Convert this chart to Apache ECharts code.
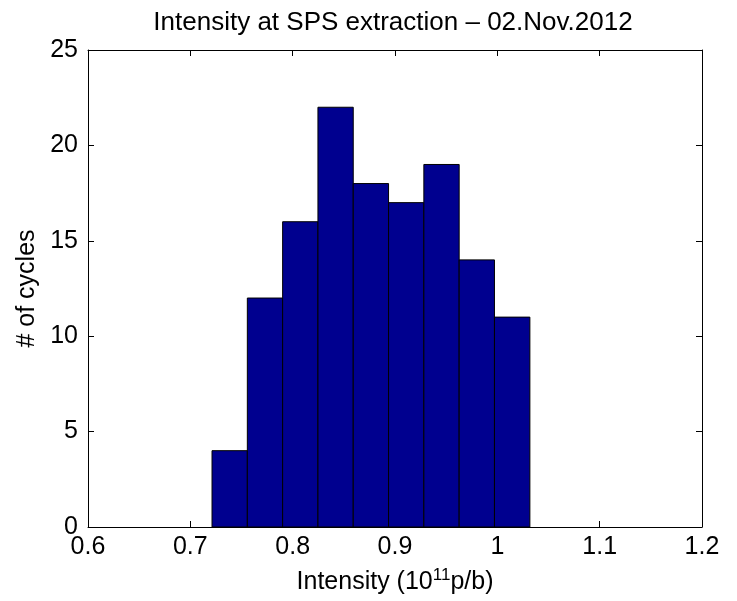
<!DOCTYPE html>
<html>
<head>
<meta charset="utf-8">
<script src="https://cdn.jsdelivr.net/npm/echarts@6/dist/echarts.min.js"></script>
<style>html,body{margin:0;padding:0;background:#fff;}#c{width:737px;height:601px;}</style>
</head>
<body>
<div id="c"></div>
<script>
// Histogram bins (intensity, 1e11 p/b) and counts
var binStarts = [0.7212, 0.7557, 0.7902, 0.8247, 0.8592, 0.8937, 0.9282, 0.9627, 0.9972];
var binEnds   = [0.7557, 0.7902, 0.8247, 0.8592, 0.8937, 0.9282, 0.9627, 0.9972, 1.0318];
var counts    = [4, 12, 16, 22, 18, 17, 19, 14, 11];
var xTicks = [0.6, 0.7, 0.8, 0.9, 1.0, 1.1, 1.2];
var yTicks = [0, 5, 10, 15, 20, 25];

var FONT = '"Liberation Sans", Arial, Helvetica, sans-serif';
var data = counts.map(function (c, i) { return [binStarts[i], binEnds[i], c]; });

var chart = echarts.init(document.getElementById('c'), null, {renderer: 'canvas'});
var axisCommon = {
  axisLine: {show: true, onZero: false, lineStyle: {color: '#000', width: 1}},
  axisTick: {show: true, inside: true, length: 6, lineStyle: {color: '#000', width: 1}},
  splitLine: {show: false}
};
chart.setOption({
  animation: false,
  backgroundColor: '#fff',
  title: {
    text: 'Intensity at SPS extraction \u2013 02.Nov.2012',
    left: 388, top: 5, textAlign: 'center',
    textStyle: {fontFamily: FONT, fontSize: 26, fontWeight: 'normal', color: '#000'}
  },
  grid: {left: 88, right: 35, top: 50, bottom: 73, containLabel: false},
  xAxis: [
    Object.assign({
      type: 'value', min: 0.6, max: 1.2, interval: 0.1, position: 'bottom',
      name: '{a|Intensity (10}{s|11}{a|p/b)}', nameLocation: 'middle', nameGap: 40,
      nameTextStyle: {rich: {
        a: {fontFamily: FONT, fontSize: 25, color: '#000', verticalAlign: 'bottom', lineHeight: 28},
        s: {fontFamily: FONT, fontSize: 17, color: '#000', verticalAlign: 'top', lineHeight: 28, padding: [0, 0, 12, 0]}
      }},
      axisLabel: {fontFamily: FONT, fontSize: 25, color: '#000', margin: 8,
        formatter: function (v) { return String(Math.round(v * 10) / 10); }}
    }, axisCommon),
    Object.assign({
      type: 'value', min: 0.6, max: 1.2, interval: 0.1, position: 'top',
      axisLabel: {show: false}
    }, axisCommon)
  ],
  yAxis: [
    Object.assign({
      type: 'value', min: 0, max: 25, interval: 5, position: 'left',
      name: '# of cycles', nameLocation: 'middle', nameGap: 44, nameRotate: 90,
      nameTextStyle: {fontFamily: FONT, fontSize: 25, color: '#000'},
      axisLabel: {fontFamily: FONT, fontSize: 25, color: '#000', margin: 10}
    }, axisCommon),
    Object.assign({
      type: 'value', min: 0, max: 25, interval: 5, position: 'right',
      axisLabel: {show: false}
    }, axisCommon)
  ],
  series: [{
    type: 'custom',
    xAxisIndex: 0, yAxisIndex: 0,
    data: data,
    encode: {x: [0, 1], y: 2},
    renderItem: function (params, api) {
      var p0 = api.coord([api.value(0), api.value(2)]);
      var p1 = api.coord([api.value(1), 0]);
      return {
        type: 'rect',
        shape: {x: p0[0], y: p0[1], width: p1[0] - p0[0], height: p1[1] - p0[1]},
        style: {fill: '#00008F', stroke: '#000', lineWidth: 1}
      };
    }
  }]
});
</script>
</body>
</html>
